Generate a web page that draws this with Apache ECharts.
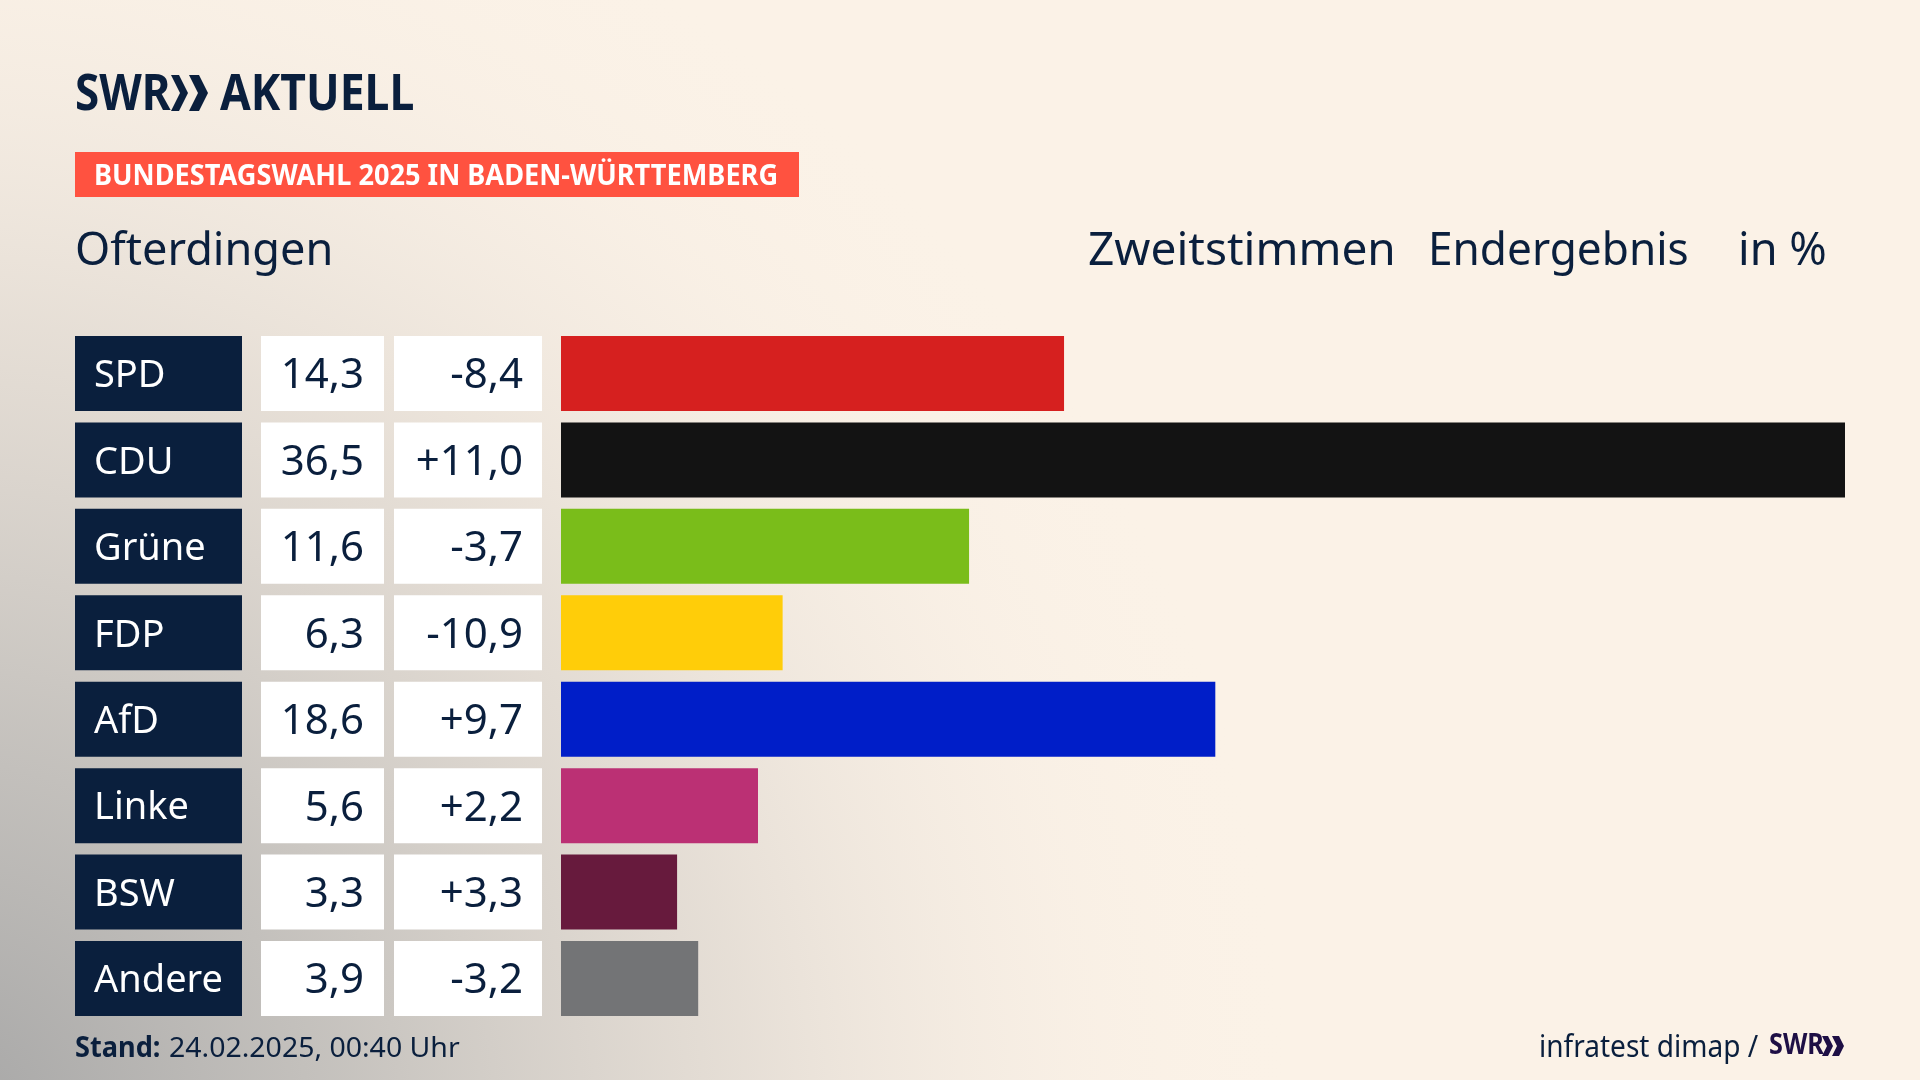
<!DOCTYPE html>
<html><head><meta charset="utf-8">
<style>html,body{margin:0;padding:0;background:#fbf2e7}#c{width:1920px;height:1080px}</style>
<script src="https://cdn.jsdelivr.net/npm/echarts@6/dist/echarts.min.js"></script>
</head><body><div id="c"></div>
<script>
const parties = ['SPD','CDU','Grüne','FDP','AfD','Linke','BSW','Andere'];
const shares = [14.3,36.5,11.6,6.3,18.6,5.6,3.3,3.9];
const changes = ['-8,4','+11,0','-3,7','-10,9','+9,7','+2,2','+3,3','-3,2'];
const colors = ['#d6201f','#131313','#7abd1a','#ffcd09','#001ec8','#bb3074','#671a3d','#737476'];
const fmt = v => v.toFixed(1).replace('.',',');

const NAVY='#0a1f3d', FONT='"Noto Sans"';
const chev=(x,y,h,w,t,c)=>({type:'polygon',silent:true,shape:{points:[[x,y],[x+t,y],[x+t+w,y+h/2],[x+t,y+h],[x,y+h],[x+w,y+h/2]]},style:{fill:c}});
const txt=(x,y,text,size,weight,color,sx)=>({type:'text',x,y,scaleX:sx||1,silent:true,style:{x:0,y:0,text,font:`${weight} ${size}px ${FONT}`,fill:color,verticalAlign:'middle',align:'left'}});
// cell backgrounds sit on the bar grid; the cell texts sit on a second grid moved 3px down
const bg=(margin,width,color)=>({type:'category',gridIndex:0,inverse:true,data:parties,position:'left',axisLine:{show:false},axisTick:{show:false},
  axisLabel:{interval:0,margin,align:'right',verticalAlign:'middle',width,height:75,backgroundColor:color,color:'transparent',formatter:()=>' '}});
const label=(data,margin,align,color,size)=>({type:'category',gridIndex:1,inverse:true,data,position:'left',axisLine:{show:false},axisTick:{show:false},
  axisLabel:{interval:0,margin,align,verticalAlign:'middle',color,fontFamily:FONT,fontSize:size}});

const chart=echarts.init(document.getElementById('c'),null,{renderer:'canvas',width:1920,height:1080});
chart.setOption({
  animation:false,
  backgroundColor:'#fbf2e7',
  grid:[{left:561,top:330.3,width:1284,height:691.4},{left:561,top:333.3,width:1284,height:691.4}],
  xAxis:[{type:'value',gridIndex:0,min:0,max:36.5,show:false},{type:'value',gridIndex:1,min:0,max:36.5,show:false}],
  yAxis:[
    bg(319,167,NAVY),bg(177,123,'#ffffff'),bg(19,148,'#ffffff'),
    label(parties,467,'left','#ffffff',38),
    label(shares.map(fmt),197,'right',NAVY,42),
    label(changes,38,'right',NAVY,42)
  ],
  series:[{type:'bar',xAxisIndex:0,yAxisIndex:0,barWidth:75,data:shares.map((v,i)=>({value:v,itemStyle:{color:colors[i]}}))}],
  graphic:{elements:[
    {type:'rect',z:-10,silent:true,shape:{x:0,y:0,width:1920,height:1080},style:{fill:{type:'radial',x:-60,y:1130,r:1350,global:true,colorStops:[
      {offset:0,color:'rgba(165,165,165,1)'},{offset:.3,color:'rgba(195,192,188,.95)'},{offset:.6,color:'rgba(225,218,210,.8)'},{offset:.85,color:'rgba(245,236,226,.4)'},{offset:1,color:'rgba(250,241,230,0)'}]}}},
    txt(75,96,'SWR',50,'bold',NAVY,.88),
    chev(171,75,36,9,8,NAVY),chev(189,75,36,9,10,NAVY),
    txt(220,96,'AKTUELL',50,'bold',NAVY,.89),
    {type:'rect',silent:true,shape:{x:75,y:152,width:724,height:45},style:{fill:'#ff5240'}},
    txt(94,177,'BUNDESTAGSWAHL 2025 IN BADEN-WÜRTTEMBERG',28,'bold','#ffffff',.97),
    txt(75,251.5,'Ofterdingen',46,'normal',NAVY,.98),
    txt(1088,251.5,'Zweitstimmen',46,'normal',NAVY,1.0),
    txt(1428,251.5,'Endergebnis',46,'normal',NAVY,.96),
    txt(1738,251.5,'in %',46,'normal',NAVY,.98),
    txt(75,1049,'Stand:',28,'bold',NAVY,.97),
    txt(169,1049,'24.02.2025, 00:40 Uhr',28,'normal',NAVY,1.016),
    txt(1539,1048,'infratest dimap /',30,'normal',NAVY,.935),
    txt(1769,1046,'SWR',28,'bold','#1e0f45',.9),
    chev(1822,1036,20,5,6,'#1e0f45'),chev(1832,1036,20,5,7,'#1e0f45')
  ]}
});
</script></body></html>
